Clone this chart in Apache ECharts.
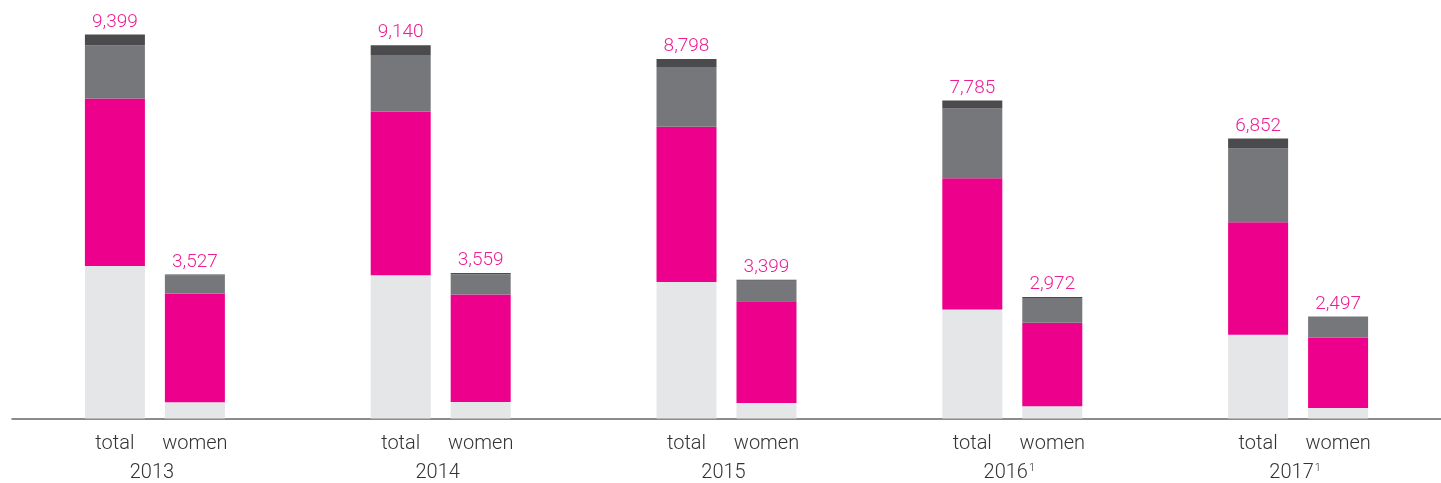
<!DOCTYPE html>
<html>
<head>
<meta charset="utf-8">
<script src="https://cdn.jsdelivr.net/npm/echarts@6/dist/echarts.min.js"></script>
<style>html,body{margin:0;padding:0;background:#fff}#c{width:1441px;height:483px}</style>
</head>
<body>
<div id="c"></div>
<script>
const years = ['2013', '2014', '2015', '2016', '2017'];
const footnotes = ['', '', '', '1', '1'];
const barNames = ['total', 'women'];

// total employees: segments bottom to top
const totalLight = [3735, 3509, 3339, 2667, 2048];
const totalMagenta = [4101, 4005, 3802, 3215, 2756];
const totalGray = [1294, 1382, 1462, 1708, 1804];
const totalDark = [269, 244, 195, 195, 244];
const totalSums = [9399, 9140, 8798, 7785, 6852];

// women: segments bottom to top
const womenLight = [400, 401, 378, 302, 257];
const womenMagenta = [2659, 2632, 2493, 2040, 1719];
const womenGray = [443, 501, 503, 605, 521];
const womenDark = [25, 25, 25, 25, 0];
const womenSums = [3527, 3559, 3399, 2972, 2497];

const C_LIGHT = '#e5e6e8', C_MAG = '#ec008c', C_GRAY = '#76777a', C_DARK = '#4b4b4d';
const FONT = 'Roboto, "Liberation Sans", sans-serif';

function seriesFor(stack, idx, light, mag, gray, dark, sums) {
  const base = { type: 'bar', stack: stack, barWidth: 60, barGap: '33.3%', silent: true };
  return [
    Object.assign({}, base, {
      name: stack + '-light', data: light, itemStyle: { color: C_LIGHT },
      label: { show: true, position: 'bottom', distance: 15, formatter: () => barNames[idx],
        fontFamily: FONT, fontWeight: 300, fontSize: 20, color: '#333' }
    }),
    Object.assign({}, base, { name: stack + '-mag', data: mag, itemStyle: { color: C_MAG } }),
    Object.assign({}, base, { name: stack + '-gray', data: gray, itemStyle: { color: C_GRAY } }),
    Object.assign({}, base, {
      name: stack + '-dark', data: dark, itemStyle: { color: C_DARK },
      label: { show: true, position: 'top', distance: 3,
        formatter: p => sums[p.dataIndex].toLocaleString('en-US'),
        fontFamily: FONT, fontWeight: 300, fontSize: 19, color: '#ec1e94' }
    })
  ];
}

const chart = echarts.init(document.getElementById('c'));
chart.setOption({
  animation: false,
  grid: { left: 12, width: 1430, top: 10, bottom: 63 },
  xAxis: {
    type: 'category', data: years,
    axisLine: { lineStyle: { color: '#666', width: 1.5 } },
    axisTick: { show: false },
    axisLabel: {
      margin: 44, padding: [0, 6, 0, 0],
      formatter: (v, i) => footnotes[i] ? '{y|' + v + '}{s|' + footnotes[i] + '}' : '{y|' + v + '}',
      rich: {
        y: { fontFamily: FONT, fontWeight: 300, fontSize: 20, color: '#333' },
        s: { fontFamily: FONT, fontWeight: 300, fontSize: 11, color: '#333', padding: [0, 0, 10, 1] }
      }
    }
  },
  yAxis: { type: 'value', min: 0, max: 10000, show: false, splitLine: { show: false } },
  series: [].concat(
    seriesFor('total', 0, totalLight, totalMagenta, totalGray, totalDark, totalSums),
    seriesFor('women', 1, womenLight, womenMagenta, womenGray, womenDark, womenSums)
  )
});
</script>
</body>
</html>
